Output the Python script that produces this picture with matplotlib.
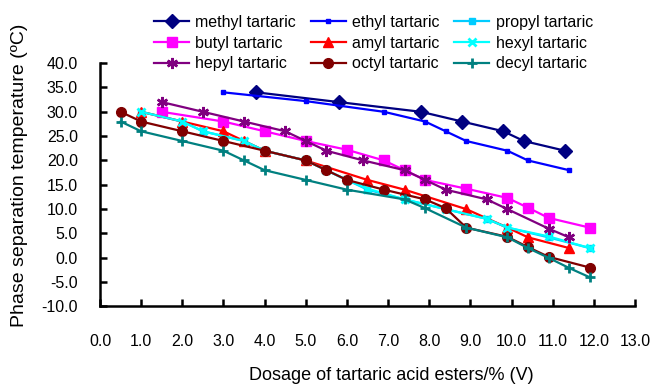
import matplotlib.pyplot as plt
import numpy as np

plt.rcParams['font.family'] = ['Liberation Sans', 'DejaVu Sans']

# Values
methyl_x = [3.8, 5.8, 7.8, 8.8, 9.8, 10.3, 11.3]
methyl_y = [34, 32, 30, 28, 26, 24, 22]

ethyl_x = [3.0, 5.0, 6.9, 7.9, 8.4, 8.9, 9.9, 10.4, 11.4]
ethyl_y = [34, 32.2, 30, 28, 26, 24, 22, 20, 18]

propyl_x = [1.0, 2.0, 2.5, 3.5, 4.0, 5.0, 5.5, 6.0, 6.5, 7.4, 8.4, 9.4, 9.9, 10.9, 11.9]
propyl_y = [30, 28, 26, 24, 22, 20, 18, 16, 14, 12, 10, 8, 6.2, 4.2, 2]

butyl_x = [1.5, 3.0, 4.0, 5.0, 6.0, 6.9, 7.4, 7.9, 8.9, 9.9, 10.4, 10.9, 11.9]
butyl_y = [30, 28, 26, 24, 22.2, 20, 18, 16, 14.2, 12.3, 10.3, 8.2, 6.2]

amyl_x = [1.0, 2.0, 3.0, 3.5, 4.0, 5.0, 6.5, 7.4, 8.9, 9.9, 10.4, 11.4]
amyl_y = [30, 28, 26, 24, 22, 20, 16, 14, 10, 6.2, 4.2, 2]

hexyl_x = [1.0, 2.0, 2.5, 3.5, 4.0, 5.0, 5.5, 6.0, 6.5, 7.4, 8.4, 9.4, 9.9, 10.9, 11.9]
hexyl_y = [30, 28, 26, 24, 22, 20, 18, 16, 14.2, 12, 10, 8, 6.2, 4.4, 2]

hepyl_x = [1.5, 2.5, 3.5, 4.5, 5.0, 5.5, 6.4, 7.4, 7.9, 8.4, 9.4, 9.9, 10.9, 11.4]
hepyl_y = [32, 30, 28, 26, 24, 22, 20, 18, 16, 14, 12, 10, 6, 4.2]

octyl_x = [0.5, 1.0, 2.0, 3.0, 4.0, 5.0, 5.5, 6.0, 6.9, 7.9, 8.4, 8.9, 9.9, 10.4, 10.9, 11.9]
octyl_y = [30, 28, 26, 24, 22, 20, 18, 16, 14, 12, 10.2, 6.2, 4.3, 2.2, 0.2, -2]

decyl_x = [0.5, 1.0, 2.0, 3.0, 3.5, 4.0, 5.0, 6.0, 7.4, 7.9, 8.9, 9.9, 10.4, 10.9, 11.4, 11.9]
decyl_y = [28, 26, 24, 22, 20, 18, 16, 14, 12, 10.2, 6.2, 4.2, 2, 0, -2.1, -4]

fig = plt.figure(figsize=(6.58, 3.85), dpi=100)
ax = fig.add_axes([0.152, 0.204, 0.813, 0.632])

# (label, x, y, color, marker, markersize, markeredgewidth)
series = [
    ("methyl tartaric", methyl_x, methyl_y, "#000080", "D", 7, 1),
    ("ethyl tartaric", ethyl_x, ethyl_y, "#0000FF", "s", 3.2, 1),
    ("propyl tartaric", propyl_x, propyl_y, "#00CCFF", "s", 5, 1),
    ("butyl tartaric", butyl_x, butyl_y, "#FF00FF", "s", 6.5, 1),
    ("amyl tartaric", amyl_x, amyl_y, "#FF0000", "^", 7.5, 1),
    ("hexyl tartaric", hexyl_x, hexyl_y, "#00FFFF", "x", 6, 2),
    ("hepyl tartaric", hepyl_x, hepyl_y, "#800080", (6, 2, 0), 8, 1.8),
    ("octyl tartaric", octyl_x, octyl_y, "#800000", "o", 7, 1),
    ("decyl tartaric", decyl_x, decyl_y, "#008080", "+", 7.5, 2),
]

handles = []
for label, xs, ys, col, mk, ms, mew in series:
    h, = ax.plot(xs, ys, color=col, lw=1.6, marker=mk, ms=ms, mew=mew,
                 mfc=col, mec=col, label=label)
    handles.append(h)

ax.set_xlim(0, 13)
ax.set_ylim(-10, 40)
ax.set_xticks(np.arange(0, 14, 1))
ax.set_xticklabels([f"{v:.1f}" for v in np.arange(0, 14, 1)])
ax.set_yticks(np.arange(-10, 45, 5))
ax.set_yticklabels([f"{v:.1f}" for v in np.arange(-10, 45, 5)])

for s in ["top", "right"]:
    ax.spines[s].set_visible(False)
for s in ["left", "bottom"]:
    ax.spines[s].set_linewidth(1.8)
ax.tick_params(axis="both", direction="in", length=5, width=1.8, labelsize=11.5)
ax.tick_params(axis="x", pad=20)
ax.tick_params(axis="y", pad=16)

ax.set_xlabel("Dosage of tartaric acid esters/% (V)", fontsize=13)
ax.xaxis.set_label_coords(0.544, -0.248)
ax.xaxis.label.set_va("top")
ax.set_ylabel("Phase separation temperature (ºC)", fontsize=14)
ax.yaxis.set_label_coords(-0.134, 0.54)

# legend rows follow the reference: matplotlib fills column by column
order = [0, 3, 6, 1, 4, 7, 2, 5, 8]
fig.legend([handles[i] for i in order], [handles[i].get_label() for i in order],
           ncol=3, loc="upper left", bbox_to_anchor=(0.217, 0.99), frameon=False,
           fontsize=11.5, handlelength=2.2, handletextpad=0.4, columnspacing=0.9,
           labelspacing=0.35, borderaxespad=0.3)

fig.savefig("out.png", dpi=100)
